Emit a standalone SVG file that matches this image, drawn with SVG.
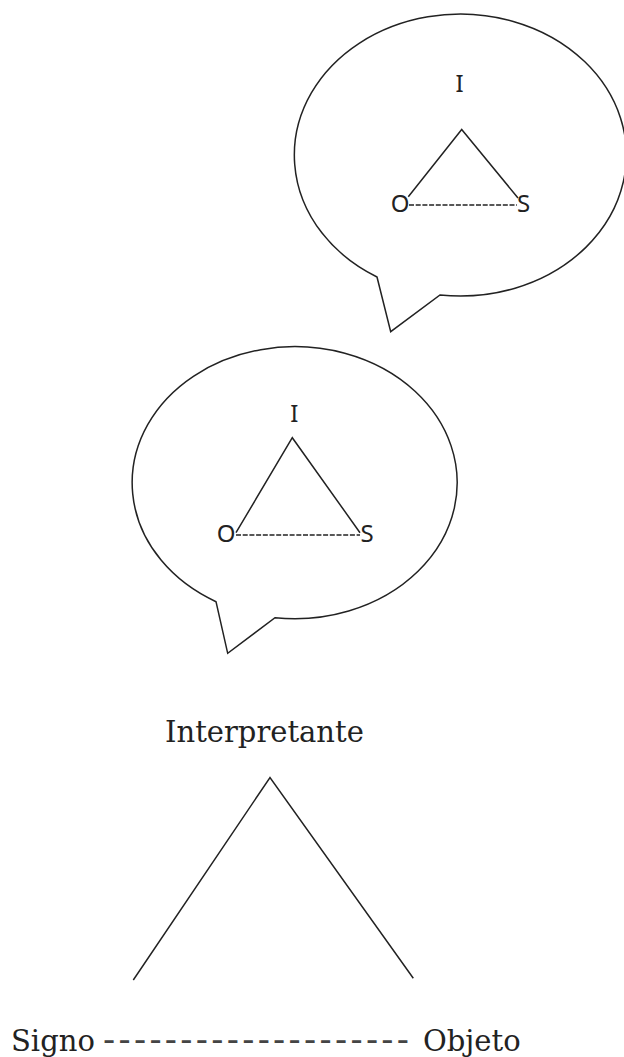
<svg xmlns="http://www.w3.org/2000/svg" width="624" height="1057" viewBox="0 0 624 1057">
<style>
.bubble{fill:#fff;stroke:#222;stroke-width:1.5;stroke-linejoin:miter}
.edge{fill:none;stroke:#222;stroke-width:1.5}
.dash{fill:none;stroke:#222;stroke-width:1.3;stroke-dasharray:5 1.7}
.sans{font-family:"Noto Sans","DejaVu Sans",sans-serif;font-size:24px;fill:#222;text-anchor:middle}
.serif{font-family:"DejaVu Serif","Liberation Serif",serif;font-size:29px;fill:#222}
.hy{font-size:36px;fill:#444}
</style>
<rect width="624" height="1057" fill="#fff"/>
<g id="bubble1">
<path class="bubble" d="M377,277 L390.7,331.7 L440,295 A166,141 0 1 0 377,277 Z"/>
</g>
<g id="bubble2">
<path class="bubble" d="M216,601.7 L227.7,653.3 L275,617.7 A162.5,136 0 1 0 216,601.7 Z"/>
</g>
<g id="connectors">
<path class="edge" d="M408.3,196.7 L461.7,129.5 L518,198"/>
<path class="dash" d="M409,205 H517"/>
<path class="edge" d="M236,532.7 L292.3,437.7 L360,532.7"/>
<path class="dash" d="M236,535 H360"/>
<path class="edge" d="M133.3,980 L270,777.5 L413.3,978.3"/>
</g>
<g id="n1-I"><text class="sans" x="459.5" y="92">I</text></g>
<g id="n1-O"><text class="sans" x="400" y="211.5">O</text></g>
<g id="n1-S"><text class="sans" x="523.5" y="211.5">S</text></g>
<g id="n2-I"><text class="sans" x="294.3" y="422">I</text></g>
<g id="n2-O"><text class="sans" x="226" y="541.7">O</text></g>
<g id="n2-S"><text class="sans" x="367" y="541.7">S</text></g>
<g id="interpretante"><text class="serif" x="165" y="742">Interpretante</text></g>
<g id="signo-objeto"><text class="serif" y="1051"><tspan x="11">Signo</tspan><tspan class="hy" x="103" letter-spacing="3.3">--------------------</tspan><tspan x="423">Objeto</tspan></text></g>
</svg>
